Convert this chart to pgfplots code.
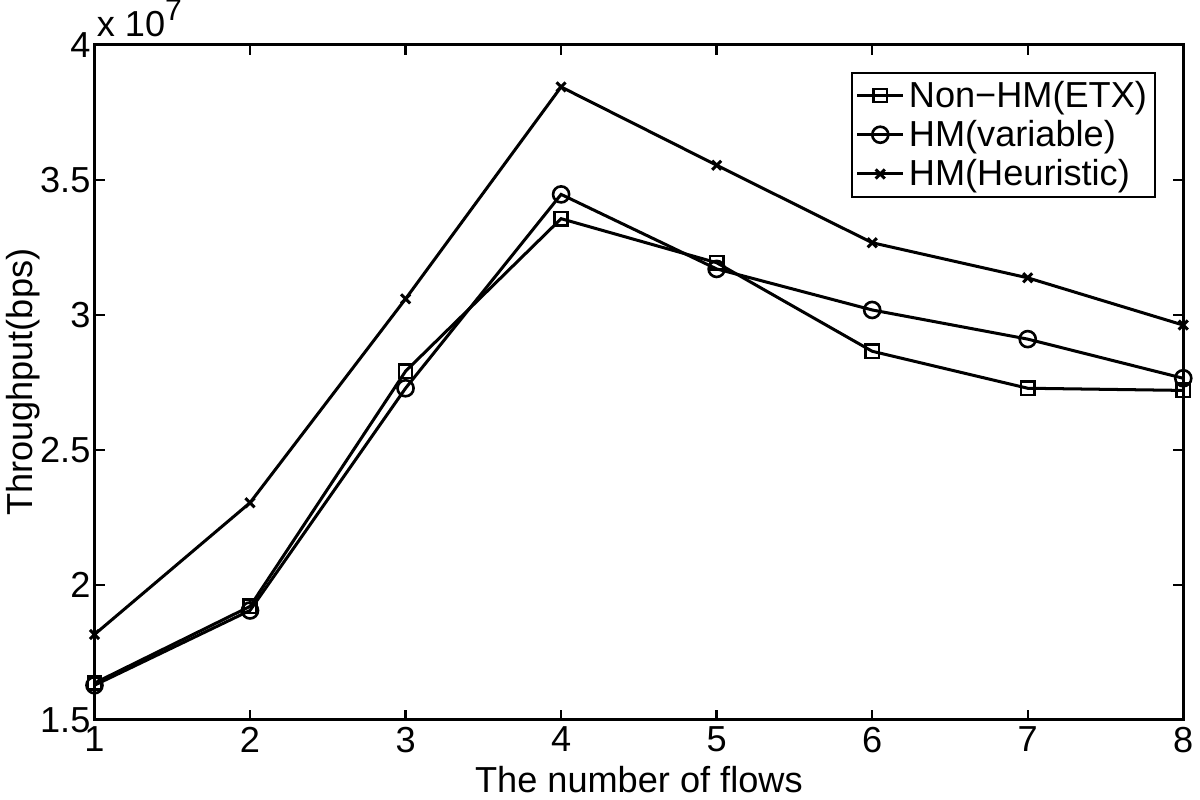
\documentclass[border=0pt]{standalone}
\usepackage{fontspec}
\setmainfont{Liberation Sans}
\usepackage{pgfplots}
\pgfplotsset{compat=1.18}

% throughput in units of 10^7 bps
\pgfplotstableread{
flows etx    var    heur
1     1.636  1.628  1.816
2     1.920  1.905  2.304
3     2.791  2.728  3.059
4     3.356  3.446  3.844
5     3.193  3.170  3.554
6     2.865  3.018  3.267
7     2.728  2.910  3.137
8     2.720  2.765  2.962
}\thr

\begin{document}
\begin{tikzpicture}
\begin{axis}[
  scale only axis, width=542pt, height=336pt,
  xmin=1, xmax=8, ymin=1.5, ymax=4,
  xtick={1,...,8}, ytick={1.5,2,2.5,3,3.5,4},
  tick align=inside, major tick length=5pt,
  axis line style={line width=1.4pt},
  every tick/.style={line width=1.2pt, black},
  font=\fontsize{18}{21}\selectfont,
  /pgf/number format/assume math mode=true,
  yticklabel style={/pgf/number format/fixed, /pgf/number format/precision=1, xshift=1.5pt},
  xlabel={The number of flows},
  ylabel={Throughput(bps)},
  xlabel style={at={(axis description cs:0.5,0)}, anchor=base, yshift=-36pt},
  ylabel style={yshift=-7pt},
  legend cell align=left,
  legend style={at={(axis description cs:0.975,0.96)}, anchor=north east,
    draw=black, line width=1pt, inner sep=2pt, row sep=1pt,
    font=\fontsize{18}{21}\selectfont},
  legend image code/.code={\draw[mark repeat=2,mark phase=2] plot coordinates {(0pt,0pt)(11.5pt,0pt)(23pt,0pt)};},
]
\addplot[black, line width=1.5pt, mark=square, mark size=3.3pt, mark options={line width=1.3pt}] table[x=flows, y=etx] {\thr};
\addlegendentry{Non{\textminus}HM(ETX)}
\addplot[black, line width=1.5pt, mark=o, mark size=4pt, mark options={line width=1.3pt}] table[x=flows, y=var] {\thr};
\addlegendentry{HM(variable)}
\addplot[black, line width=1.5pt, mark=x, mark size=3.2pt, mark options={line width=1.5pt}] table[x=flows, y=heur] {\thr};
\addlegendentry{HM(Heuristic)}
\coordinate (tl) at (rel axis cs:0,1);
\end{axis}
\node[anchor=base west, inner sep=0pt, font=\fontsize{18}{21}\selectfont] at ([xshift=1pt,yshift=4pt]tl) {x 10\raisebox{8pt}{\fontsize{15}{16}\selectfont 7}};
\end{tikzpicture}
\end{document}
